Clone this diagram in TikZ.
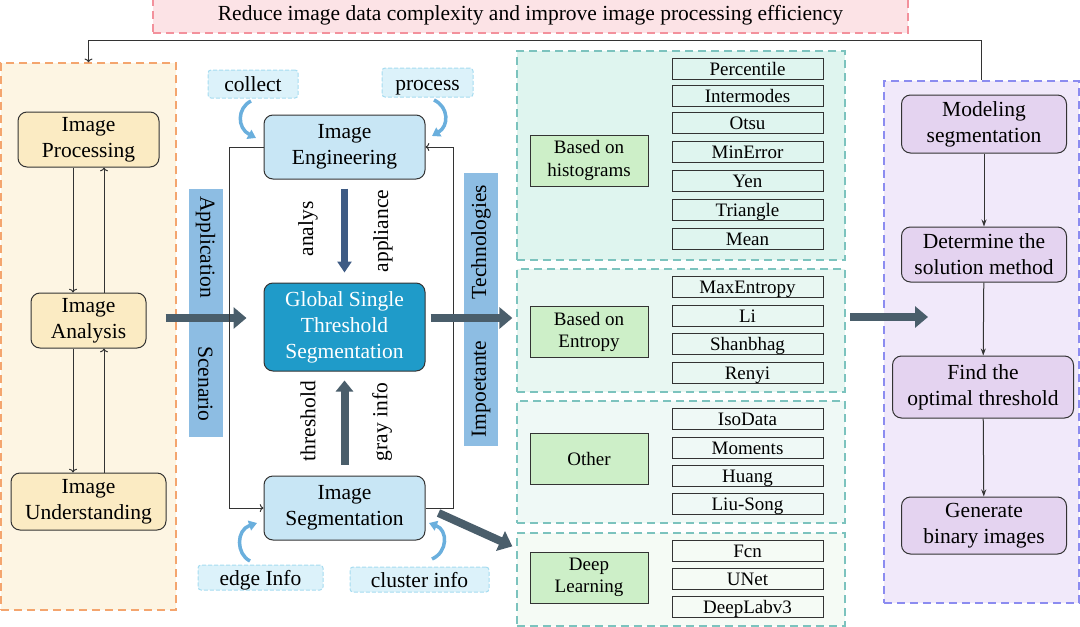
\documentclass[tikz,border=0pt]{standalone}
\usepackage{fontspec}
\setmainfont{Liberation Serif}
\usetikzlibrary{arrows.meta}

\definecolor{bannerfill}{HTML}{FCE3E6}
\definecolor{bannerline}{HTML}{F3919C}
\definecolor{orangefill}{HTML}{FDF5E3}
\definecolor{orangeline}{HTML}{F4A56E}
\definecolor{stagefill}{HTML}{FBEBC3}
\definecolor{barblue}{HTML}{8DBDE3}
\definecolor{tagfill}{HTML}{DCF2FA}
\definecolor{tagline}{HTML}{A6DCF0}
\definecolor{engfill}{HTML}{C8E6F5}
\definecolor{coreblue}{HTML}{1F9BC9}
\definecolor{curveblue}{HTML}{6AAFDD}
\definecolor{downblue}{HTML}{3E5B84}
\definecolor{slate}{HTML}{4A5E6B}
\definecolor{tealline}{HTML}{7CC3BE}
\definecolor{histfill}{HTML}{DFF5EF}
\definecolor{entfill}{HTML}{E8F7F2}
\definecolor{othfill}{HTML}{EFF9F6}
\definecolor{dlfill}{HTML}{F5FBF5}
\definecolor{catfill}{HTML}{CDEFC8}
\definecolor{purplefill}{HTML}{F1E9FA}
\definecolor{purpleline}{HTML}{8C8CF0}
\definecolor{stepfill}{HTML}{E4D3F0}
\definecolor{boxline}{HTML}{333333}

\begin{document}
\begin{tikzpicture}[x=1pt,y=-1pt,
  every node/.style={font=\fontsize{21.5}{26}\selectfont, align=center, inner sep=0pt},
  panel/.style={draw, dash pattern=on 8pt off 5pt, line width=1.3pt},
  tag/.style={draw=tagline, fill=tagfill, dash pattern=on 4pt off 2pt, line width=1pt, rounded corners=3pt, text height=16pt, text depth=1pt},
  stage/.style={draw=boxline, line width=1pt, rounded corners=9pt},
  cat/.style={draw=boxline, fill=catfill, line width=1pt, minimum width=118pt, minimum height=51pt, font=\fontsize{19}{22.5}\selectfont},
  method/.style={draw=boxline, line width=1pt, minimum width=151pt, minimum height=21pt, font=\fontsize{19}{22}\selectfont, text height=14pt, text depth=1pt},
  thin/.style={draw=boxline, line width=1pt},
  bigarrow/.style={draw=slate, line width=8pt, -{Triangle[length=13pt,width=21pt]}},
  curvearrow/.style={draw=curveblue, line width=3.5pt, -{Triangle[length=8pt,width=10pt]}}
]
\useasboundingbox (0,0) rectangle (1080,627);

% top banner
\node[panel, draw=bannerline, fill=bannerfill, minimum width=755pt, minimum height=36pt] (banner) at (530.5,15) {Reduce image data complexity and improve image processing efficiency};

% left panel
\node[panel, draw=orangeline, fill=orangefill, minimum width=175pt, minimum height=547pt] (orangepanel) at (88.5,336.5) {};
\node[stage, fill=stagefill, minimum width=141pt, minimum height=55pt] (improc) at (88.5,139.5) {Image\\Processing};
\node[stage, fill=stagefill, minimum width=115pt, minimum height=55pt] (imana) at (88.5,320.5) {Image\\Analysis};
\node[stage, fill=stagefill, minimum width=155pt, minimum height=57pt] (imund) at (88.5,501.5) {Image\\Understanding};
\draw[thin, ->] ([xshift=-15.5pt]improc.south) -- ([xshift=-15.5pt]imana.north);
\draw[thin, ->] ([xshift=15.5pt]imana.north) -- ([xshift=15.5pt]improc.south);
\draw[thin, ->] ([xshift=-15.5pt]imana.south) -- ([xshift=-15.5pt]imund.north);
\draw[thin, ->] ([xshift=15.5pt]imund.north) -- ([xshift=15.5pt]imana.south);

% application scenario bar
\node[fill=barblue, minimum width=34pt, minimum height=248pt] (appbar) at (205.5,313) {};
\node[rotate=-90] (apptext) at (205.5,247) {Application};
\node[rotate=-90] (scentext) at (205.5,384) {Scenario};

% center
\node[stage, fill=engfill, minimum width=161pt, minimum height=64pt] (imeng) at (344.5,147) {Image\\Engineering};
\node[stage, fill=coreblue, text=white, minimum width=161pt, minimum height=88pt] (gsts) at (344.5,327) {Global Single\\Threshold\\Segmentation};
\node[stage, fill=engfill, minimum width=161pt, minimum height=64pt] (imseg) at (344.5,508) {Image\\Segmentation};
\draw[bigarrow] ([xshift=19pt,yshift=2.5pt]imana.east) -- ([xshift=-17pt]gsts.west |- 0,318);
\node[tag, minimum width=90pt, minimum height=28pt] (collect) at (253,84) {collect};
\node[tag, minimum width=91pt, minimum height=29pt] (process) at (427.5,82.5) {process};
\node[tag, minimum width=125pt, minimum height=25pt] (edge) at (260.5,577.5) {edge Info};
\node[tag, minimum width=139pt, minimum height=25pt] (cluster) at (419.5,579.5) {cluster info};
\draw[curvearrow] (251,101) .. controls (237,108) and (237,128) .. (256,138);
\draw[curvearrow] (434,100) .. controls (449,107) and (449,126) .. (432,136);
\draw[curvearrow] (250,561) .. controls (236,554) and (236,530) .. (257,523);
\draw[curvearrow] (432,559) .. controls (448,552) and (448,530) .. (429,523);
\draw[thin, ->] (imeng.west) -- ++(-34,0) |- (imseg.west);
\draw[thin, ->] (imseg.east) -- ++(28,0) |- (imeng.east);
\draw[draw=downblue, line width=7pt, -{Triangle[length=11pt,width=14pt]}] ([yshift=-9pt]imeng.south) -- ([yshift=10pt]gsts.north);
\draw[draw=slate, line width=8pt, -{Triangle[length=11pt,width=17pt]}] ([yshift=11pt]imseg.north) -- ([yshift=-9pt]gsts.south);
\node[rotate=90] (analys) at (308,229) {analys};
\node[rotate=90] (appliance) at (383,231) {appliance};
\node[rotate=90] (threshold) at (308,421) {threshold};
\node[rotate=90] (grayinfo) at (382,422) {gray info};

% technologies bar
\node[fill=barblue, minimum width=34pt, minimum height=273pt] (techbar) at (481,309.5) {};
\node[rotate=90] (techtext) at (481,242) {Technologies};
\node[rotate=90] (imptext) at (481,389) {Impoetante};

% technology panels
\node[panel, draw=tealline, fill=histfill, minimum width=328pt, minimum height=209pt] (histpanel) at (681,155.5) {};
\node[panel, draw=tealline, fill=entfill, minimum width=328pt, minimum height=123pt] (entpanel) at (681,330.5) {};
\node[panel, draw=tealline, fill=othfill, minimum width=328pt, minimum height=122pt] (othpanel) at (681,462) {};
\node[panel, draw=tealline, fill=dlfill, minimum width=328pt, minimum height=93pt] (dlpanel) at (681,579.5) {};
\draw[bigarrow] ([xshift=5pt]gsts.east |- 0,318) -- ([xshift=-4pt]entpanel.west |- 0,318);
\draw[bigarrow] ([xshift=13pt,yshift=-5pt]imseg.east) -- ([xshift=-4pt,yshift=-14pt]dlpanel.north west);

\node[cat] (hist) at (589,160.5) {Based on\\histograms};
\node[cat] (entropy) at (589,332) {Based on\\Entropy};
\node[cat] (other) at (589,459) {Other};
\node[cat] (deep) at (589,577.5) {Deep\\Learning};

\node[method] (percentile) at (747.5,69) {Percentile};
\node[method] (intermodes) at (747.5,96) {Intermodes};
\node[method] (otsu) at (747.5,123) {Otsu};
\node[method] (minerror) at (747.5,152) {MinError};
\node[method] (yen) at (747.5,181) {Yen};
\node[method] (triangle) at (747.5,210) {Triangle};
\node[method] (mean) at (747.5,239) {Mean};
\node[method] (maxentropy) at (747.5,287) {MaxEntropy};
\node[method] (li) at (747.5,316) {Li};
\node[method] (shanbhag) at (747.5,344) {Shanbhag};
\node[method] (renyi) at (747.5,373) {Renyi};
\node[method] (isodata) at (747.5,419) {IsoData};
\node[method] (moments) at (747.5,448) {Moments};
\node[method] (huang) at (747.5,476) {Huang};
\node[method] (liusong) at (747.5,504) {Liu-Song};
\node[method] (fcn) at (747.5,551) {Fcn};
\node[method] (unet) at (747.5,579) {UNet};
\node[method] (deeplab) at (747.5,607) {DeepLabv3};

% right panel
\node[panel, draw=purpleline, fill=purplefill, minimum width=195pt, minimum height=522pt] (purplepanel) at (981.5,342) {};
\node[stage, fill=stepfill, minimum width=165pt, minimum height=58pt] (model) at (984,124) {Modeling\\segmentation};
\node[stage, fill=stepfill, minimum width=165pt, minimum height=55pt] (determine) at (984,254.5) {Determine the\\solution method};
\node[stage, fill=stepfill, minimum width=181pt, minimum height=62pt] (find) at (983,387) {Find the\\optimal threshold};
\node[stage, fill=stepfill, minimum width=165pt, minimum height=57pt] (generate) at (984,525.5) {Generate\\binary images};
\draw[thin, -{Stealth[length=7pt,width=5pt]}] (model) -- (determine);
\draw[thin, -{Stealth[length=7pt,width=5pt]}] (determine) -- (find);
\draw[thin, -{Stealth[length=7pt,width=5pt]}] (find) -- (generate);
\coordinate (techout) at (850,317);
\coordinate (flowin) at (928,317);
\draw[bigarrow] (techout) -- (flowin);

% feedback
\draw[thin, ->] (purplepanel.north) -- ++(0,-40) -| (orangepanel.north);
\end{tikzpicture}
\end{document}
